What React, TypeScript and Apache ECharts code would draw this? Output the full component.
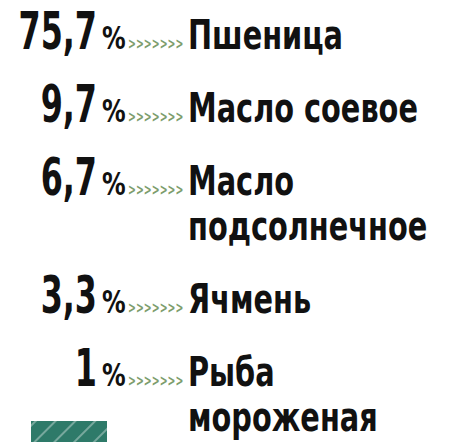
import React, { useEffect, useRef } from "react";
import * as echarts from "echarts";

const percents = ["75,7", "9,7", "6,7", "3,3", "1"];
const products = ["Пшеница", "Масло соевое", "Масло\nподсолнечное", "Ячмень", "Рыба\nмороженая"];
const arrowText = ">>>>>>>";
const barCategories = ["Пшеница"];
const barValues = [75.7];

const FONT = "'DejaVu Sans Condensed', 'DejaVu Sans', sans-serif";
const NUM_SIZE = 52;
const PCT_SIZE = 32;
const LABEL_SIZE = 40;
const ARROW_SIZE = 15;
const FIRST_BASELINE = 49;
const ROW_PITCH = 73;
const LINE_PITCH = 45;
const MID = 0.346;

export default function App() {
  const ref = useRef<HTMLDivElement>(null);
  useEffect(() => {
    if (!ref.current) return;
    const chart = echarts.init(ref.current, null, { renderer: "svg" });
    const graphics: any[] = [];
    let baseline = FIRST_BASELINE;
    percents.forEach((p, i) => {
      const lines = products[i].split("\n");
      graphics.push({
        type: "text",
        x: 97,
        y: baseline - MID * NUM_SIZE,
        scaleX: 0.68,
        style: {
          text: p,
          textAlign: "right",
          textVerticalAlign: "middle",
          font: `bold ${NUM_SIZE}px ${FONT}`,
          fill: "#111111",
        },
      });
      graphics.push({
        type: "text",
        x: 102,
        y: baseline - MID * PCT_SIZE,
        scaleX: 0.82,
        style: {
          text: "%",
          textAlign: "left",
          textVerticalAlign: "middle",
          font: `bold ${PCT_SIZE}px ${FONT}`,
          fill: "#111111",
        },
      });
      graphics.push({
        type: "text",
        x: 128,
        y: baseline - 5,
        scaleX: 0.7,
        style: {
          text: arrowText,
          textAlign: "left",
          textVerticalAlign: "middle",
          font: `bold ${ARROW_SIZE}px ${FONT}`,
          fill: "#7d9d6c",
        },
      });
      lines.forEach((ln, j) => {
        graphics.push({
          type: "text",
          x: 188,
          y: baseline + j * LINE_PITCH - MID * LABEL_SIZE,
          scaleX: 0.8,
          style: {
            text: ln,
            textAlign: "left",
            textVerticalAlign: "middle",
            font: `bold ${LABEL_SIZE}px ${FONT}`,
            fill: "#111111",
          },
        });
      });
      baseline += ROW_PITCH + (lines.length - 1) * LINE_PITCH;
    });

    chart.setOption({
      animation: false,
      backgroundColor: "#ffffff",
      grid: { left: 31, top: 421, width: 76, height: 40 },
      xAxis: { type: "value", min: 0, max: 75.7, show: false },
      yAxis: { type: "category", data: barCategories, show: false },
      series: [
        {
          type: "bar",
          data: barValues,
          barWidth: "100%",
          itemStyle: {
            color: "#2e7a69",
            decal: {
              symbol: "rect",
              color: "rgba(255,255,255,0.35)",
              dashArrayX: [1, 0],
              dashArrayY: [2, 12],
              rotation: -Math.PI / 4,
            },
          },
        },
      ],
      graphic: graphics,
    });
    return () => chart.dispose();
  }, []);
  return (
    <div
      ref={ref}
      style={{ position: "fixed", left: 0, top: 0, width: 452, height: 442 }}
    />
  );
}
